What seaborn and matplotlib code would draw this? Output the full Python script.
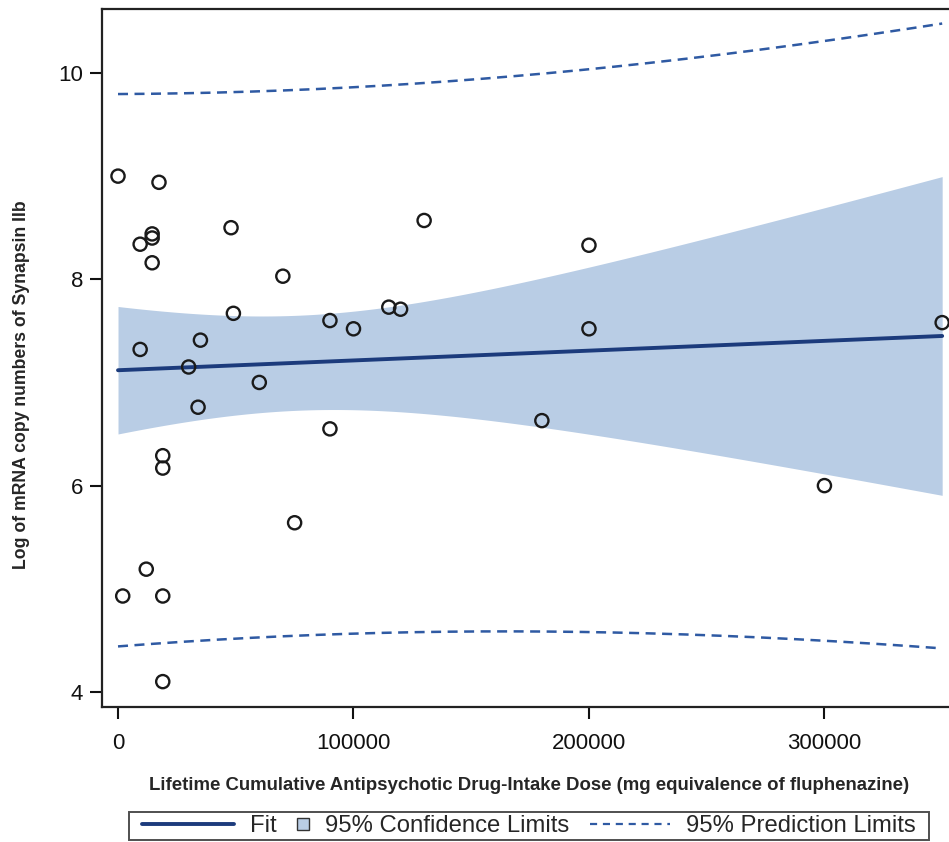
import numpy as np
import pandas as pd
import matplotlib
matplotlib.use("Agg")
import matplotlib.pyplot as plt
import seaborn as sns
from matplotlib.lines import Line2D
from matplotlib.legend_handler import HandlerLine2D

# Data
dose = [0, 17400, 9400, 14500, 14500, 14500, 48000, 70000, 130000, 200000,
        49000, 9400, 35000, 30000, 60000, 34000, 90000, 100000, 115000, 120000,
        200000, 90000, 180000, 350000, 19000, 19000, 75000, 300000, 12000, 2000,
        19000, 19000]
log_mrna = [9.00, 8.94, 8.34, 8.44, 8.40, 8.16, 8.50, 8.03, 8.57, 8.33,
            7.67, 7.32, 7.41, 7.15, 7.00, 6.76, 7.60, 7.52, 7.73, 7.71,
            7.52, 6.55, 6.63, 7.58, 6.29, 6.17, 5.64, 6.00, 5.19, 4.93,
            4.93, 4.10]
x_ticks = [0, 100000, 200000, 300000]
y_ticks = [4, 6, 8, 10]
x_label = "Lifetime Cumulative Antipsychotic Drug-Intake Dose (mg equivalence of fluphenazine)"
y_label = "Log of mRNA copy numbers of Synapsin IIb"
legend_labels = ["Fit", "95% Confidence Limits", "95% Prediction Limits"]

df = pd.DataFrame({"dose": dose, "y": log_mrna})

# OLS fit with 95% confidence and prediction limits
x = np.asarray(dose, float)
y = np.asarray(log_mrna, float)
n = len(x)
b1, b0 = np.polyfit(x, y, 1)
resid = y - (b0 + b1 * x)
s = np.sqrt(np.sum(resid ** 2) / (n - 2))
t = 2.042  # t(0.975, 30)
xbar = x.mean()
sxx = np.sum((x - xbar) ** 2)
grid = np.linspace(x.min(), x.max(), 200)
fit = b0 + b1 * grid
se_mean = s * np.sqrt(1 / n + (grid - xbar) ** 2 / sxx)
se_pred = s * np.sqrt(1 + 1 / n + (grid - xbar) ** 2 / sxx)
band = pd.DataFrame({"x": grid, "fit": fit,
                     "cl_lo": fit - t * se_mean, "cl_hi": fit + t * se_mean,
                     "pl_lo": fit - t * se_pred, "pl_hi": fit + t * se_pred})

sns.set_style("ticks")
plt.rcParams["font.family"] = ["Liberation Sans", "DejaVu Sans"]

W, H = 949, 842
fig = plt.figure(figsize=(W / 100, H / 100), dpi=100)
ax = fig.add_axes([102 / W, 1 - 707 / H, 1 - 102 / W, (707 - 9) / H])

band_color = "#B9CDE5"
fit_color = "#1C3B7C"
pred_color = "#2F5AA3"

ax.fill_between(band["x"], band["cl_lo"], band["cl_hi"], color=band_color, lw=0, zorder=1)
sns.lineplot(data=band, x="x", y="fit", ax=ax, color=fit_color, lw=2.8, zorder=3)
sns.lineplot(data=band, x="x", y="pl_hi", ax=ax, color=pred_color, lw=1.8,
             linestyle=(0, (4, 2.6)), zorder=3)
sns.lineplot(data=band, x="x", y="pl_lo", ax=ax, color=pred_color, lw=1.8,
             linestyle=(0, (4, 2.6)), zorder=3)
sns.scatterplot(data=df, x="dose", y="y", ax=ax, s=90, facecolor="none",
                edgecolor="#1a1a1a", linewidth=1.7, zorder=4)

ax.set_xlim(-6800, 352900)
ax.set_ylim(3.854, 10.62)
ax.set_xticks(x_ticks)
ax.set_xticklabels([str(v) for v in x_ticks])
ax.set_yticks(y_ticks)
ax.set_yticklabels([str(v) for v in y_ticks])
ax.tick_params(axis="both", direction="out", length=8.5, width=1.5, labelsize=16,
               colors="#111111", pad=5)
ax.tick_params(axis="x", pad=10)
for side in ["left", "bottom", "top"]:
    ax.spines[side].set_linewidth(1.6)
    ax.spines[side].set_color("#222222")
ax.spines["right"].set_visible(False)

ax.set_xlabel("")
ax.set_ylabel("")
fig.text(529 / W, 1 - 786 / H, x_label, ha="center", va="center",
         fontsize=13.45, fontweight="bold")
fig.text(22 / W, 1 - 385 / H, y_label, ha="center", va="center",
         rotation=90, fontsize=12.7, fontweight="bold")


class SizedHandler(HandlerLine2D):
    """Line handler with its own handle-box width (points)."""
    def __init__(self, width_pt, **kw):
        super().__init__(**kw)
        self.width_pt = width_pt

    def legend_artist(self, legend, orig_handle, fontsize, handlebox):
        handlebox.width = self.width_pt
        return super().legend_artist(legend, orig_handle, fontsize, handlebox)


h_fit = Line2D([0], [0], color=fit_color, lw=2.8)
h_ci = Line2D([0], [0], linestyle="none", marker="s", markersize=9.0,
              markerfacecolor=band_color, markeredgecolor="#333333",
              markeredgewidth=1.0)
h_pi = Line2D([0], [0], color=pred_color, lw=1.6, linestyle=(0, (3.2, 2.6)))
leg = fig.legend([h_fit, h_ci, h_pi], legend_labels, loc="center", ncol=3,
                 bbox_to_anchor=(529 / W, 1 - 826 / H), frameon=True,
                 fancybox=False, fontsize=17.2, handlelength=0.6,
                 columnspacing=0.85, handletextpad=0.65, borderpad=0.12,
                 borderaxespad=0, numpoints=1,
                 handler_map={h_fit: SizedHandler(66),
                              h_ci: SizedHandler(9.5),
                              h_pi: SizedHandler(58)})
frame = leg.get_frame()
frame.set_edgecolor("#222222")
frame.set_linewidth(1.4)
# extra horizontal padding only
frame.set_boxstyle("square", pad=0.46)
frame.set_mutation_aspect(0.05)

fig.savefig("out.png", dpi=100)
